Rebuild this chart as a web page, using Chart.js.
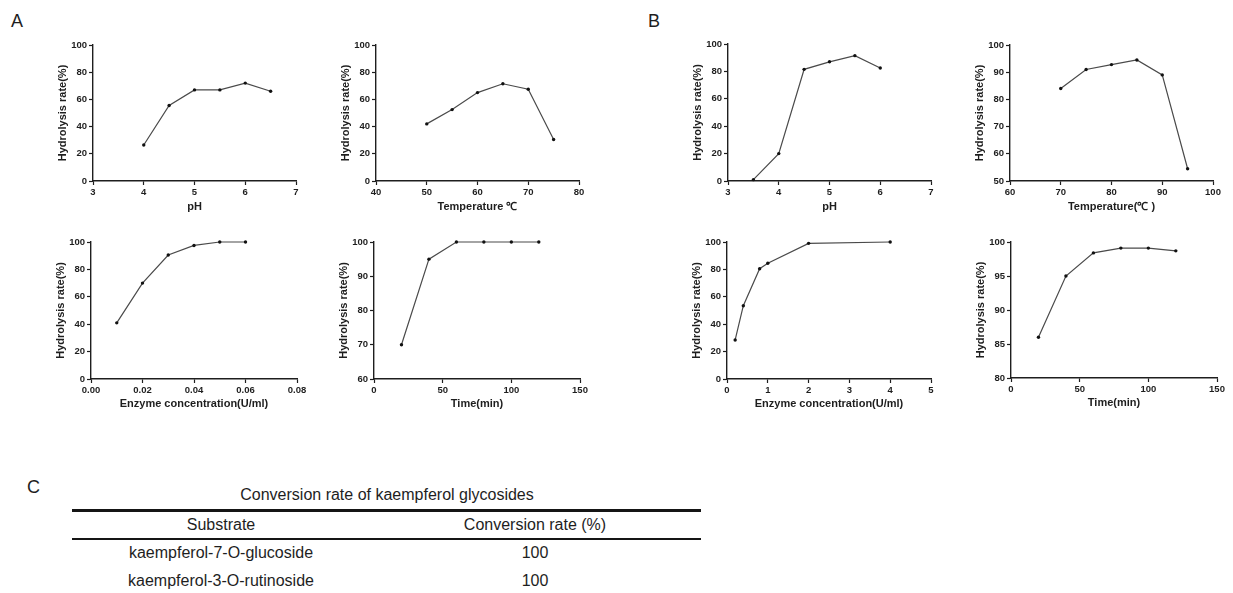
<!DOCTYPE html>
<html>
<head>
<meta charset="utf-8">
<script src="https://cdn.jsdelivr.net/npm/chart.js@4.4.1/dist/chart.umd.min.js"></script>
<style>
  html, body { margin: 0; padding: 0; background: #ffffff; }
  body { width: 1233px; height: 593px; position: relative; overflow: hidden; font-family: "Liberation Sans", Arial, sans-serif; color: #1e1e1e; }
  canvas { position: absolute; }
  .lbl { position: absolute; font-size: 18px; line-height: 18px; }
  .t { position: absolute; font-size: 16px; line-height: 16px; white-space: nowrap; transform: translate(-50%, -50%); }
  .rule { position: absolute; background: #151515; }
</style>
</head>
<body>
<div class="lbl" style="left:11px; top:12px;">A</div>
<div class="lbl" style="left:648px; top:12px;">B</div>
<div class="lbl" style="left:27px; top:478px;">C</div>
<div id="table"></div>
<script>
// ---------- data ----------
const phA = [4, 4.5, 5, 5.5, 6, 6.5];
const phRateA = [26.5, 55.5, 67, 67, 72, 66];
const tempA = [50, 55, 60, 65, 70, 75];
const tempRateA = [42, 52.5, 65, 71.5, 67.5, 30.5];
const enzymeA = [0.01, 0.02, 0.03, 0.04, 0.05, 0.06];
const enzymeRateA = [41, 70, 90.5, 97.5, 100, 100];
const timeA = [20, 40, 60, 80, 100, 120];
const timeRateA = [70, 95, 100, 100, 100, 100];

const phB = [3.5, 4, 4.5, 5, 5.5, 6];
const phRateB = [1, 20, 81.5, 87, 91.5, 82.5];
const tempB = [70, 75, 80, 85, 90, 95];
const tempRateB = [84, 91, 92.8, 94.5, 89, 54.5];
const enzymeB = [0.2, 0.4, 0.8, 1, 2, 4];
const enzymeRateB = [28.5, 53.5, 80.5, 84.5, 99, 100];
const timeB = [20, 40, 60, 80, 100, 120];
const timeRateB = [86, 95, 98.4, 99.1, 99.1, 98.7];

const yTitle = "Hydrolysis rate(%)";
const xTitles = ["pH", "Temperature \u2103", "Temperature(\u2103 )", "Enzyme concentration(U/ml)", "Time(min)"];

const tableTitle = "Conversion rate of kaempferol glycosides";
const tableHeaders = ["Substrate", "Conversion rate (%)"];
const substrates = ["kaempferol-7-O-glucoside", "kaempferol-3-O-rutinoside"];
const conversionRates = [100, 100];

// ---------- layout ----------
const yW = 50, pT = 10, pR = 18, xH = 36;
const ink = '#1e1e1e';

const panels = [
  { x: phA, y: phRateA, xt: xTitles[0], L: 93, R: 296, T: 45, B: 181, xr: [3, 7, 1], yr: [0, 100, 20], tOff: 26 },
  { x: tempA, y: tempRateA, xt: xTitles[1], L: 376, R: 579, T: 45, B: 181, xr: [40, 80, 10], yr: [0, 100, 20], tOff: 26 },
  { x: phB, y: phRateB, xt: xTitles[0], L: 728, R: 931, T: 44, B: 181, xr: [3, 7, 1], yr: [0, 100, 20], tOff: 26 },
  { x: tempB, y: tempRateB, xt: xTitles[2], L: 1010, R: 1213, T: 45, B: 181, xr: [60, 100, 10], yr: [50, 100, 10], tOff: 26 },
  { x: enzymeA, y: enzymeRateA, xt: xTitles[3], L: 91, R: 297, T: 242, B: 379, xr: [0, 0.08, 0.02], yr: [0, 100, 20], tOff: 25, dec: 2 },
  { x: timeA, y: timeRateA, xt: xTitles[4], L: 374, R: 580, T: 242, B: 379, xr: [0, 150, 50], yr: [60, 100, 10], tOff: 24.5 },
  { x: enzymeB, y: enzymeRateB, xt: xTitles[3], L: 727, R: 931, T: 242, B: 379, xr: [0, 5, 1], yr: [0, 100, 20], tOff: 25 },
  { x: timeB, y: timeRateB, xt: xTitles[4], L: 1011, R: 1217, T: 242, B: 378, xr: [0, 150, 50], yr: [80, 100, 5], tOff: 24.5 }
];

const tickFont = { family: '"Liberation Sans", Arial, sans-serif', size: 9.5, weight: 'bold' };
const titleFont = { family: '"Liberation Sans", Arial, sans-serif', size: 11, weight: 'bold', lineHeight: 1.2 };

panels.forEach(p => {
  const c = document.createElement('canvas');
  const w = (p.R - p.L) + yW + pR;
  const h = (p.B - p.T) + pT + xH;
  c.width = w; c.height = h;
  c.style.left = (p.L - yW) + 'px';
  c.style.top = (p.T - pT) + 'px';
  c.style.width = w + 'px'; c.style.height = h + 'px';
  document.body.appendChild(c);
  const pts = p.x.map((v, i) => ({ x: v, y: p.y[i] }));
  new Chart(c, {
    type: 'line',
    data: { datasets: [{
      data: pts,
      borderColor: '#4a4a4a',
      borderWidth: 1.2,
      pointBackgroundColor: '#111',
      pointBorderColor: '#111',
      pointRadius: 1.7,
      pointBorderWidth: 0,
      tension: 0,
      clip: false
    }]},
    options: {
      responsive: false,
      animation: false,
      devicePixelRatio: 1,
      layout: { padding: { top: pT, right: pR, left: 0, bottom: 0 } },
      plugins: { legend: { display: false }, tooltip: { enabled: false } },
      scales: {
        x: {
          type: 'linear', min: p.xr[0], max: p.xr[1],
          afterFit: s => { s.height = xH; },
          ticks: { stepSize: p.xr[2], autoSkip: false, maxRotation: 0, color: ink, font: tickFont, padding: 2,
                   callback: v => p.dec ? Number(v).toFixed(p.dec) : String(Math.round(v * 1000) / 1000) },
          grid: { display: true, drawOnChartArea: false, drawTicks: true, tickLength: 4, color: ink, tickWidth: 1.2 },
          border: { display: true, color: ink, width: 1.4 },
          title: { display: true, text: p.xt, color: ink, font: titleFont, padding: { top: 0, bottom: xH - p.tOff - 6.6 } }
        },
        y: {
          type: 'linear', min: p.yr[0], max: p.yr[1],
          afterFit: s => { s.width = yW; },
          ticks: { stepSize: p.yr[2], autoSkip: false, color: ink, font: tickFont, padding: 2 },
          grid: { display: true, drawOnChartArea: false, drawTicks: true, tickLength: 4, color: ink, tickWidth: 1.2 },
          border: { display: true, color: ink, width: 1.4 },
          title: { display: true, text: yTitle, color: ink, font: titleFont, padding: { top: yW - 30 - 6.6, bottom: 0 } }
        }
      }
    }
  });
});

// ---------- table C ----------
const tbl = document.getElementById('table');
function addText(txt, cx, cy) {
  const d = document.createElement('div');
  d.className = 't';
  d.style.left = cx + 'px'; d.style.top = cy + 'px';
  d.textContent = txt;
  tbl.appendChild(d);
}
function addRule(x1, x2, y, th) {
  const d = document.createElement('div');
  d.className = 'rule';
  d.style.left = x1 + 'px'; d.style.width = (x2 - x1) + 'px';
  d.style.top = (y - th / 2) + 'px'; d.style.height = th + 'px';
  tbl.appendChild(d);
}
const colX = [221, 535];
addText(tableTitle, 387, 495);
addRule(72, 701, 510, 3);
addText(tableHeaders[0], colX[0], 525);
addText(tableHeaders[1], colX[1], 525);
addRule(72, 701, 539, 1.5);
substrates.forEach((s, i) => {
  const cy = 553 + i * 28;
  addText(s, colX[0], cy);
  addText(String(conversionRates[i]), colX[1], cy);
});
</script>
</body>
</html>
